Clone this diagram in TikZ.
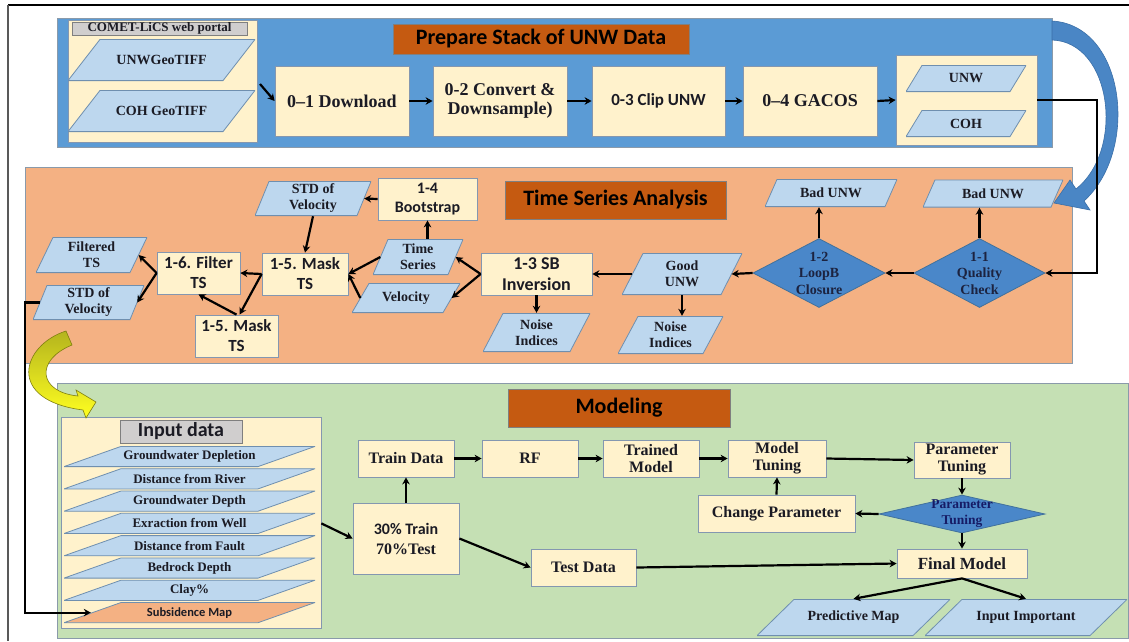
\documentclass[tikz,border=0pt]{standalone}
\usepackage{fontspec}
\setmainfont{Liberation Serif}
\newfontfamily\carl{Carlito}
\usetikzlibrary{shapes.geometric,arrows.meta,calc}
\newcommand\fsz[2]{\fontsize{#1}{#2}\selectfont}
\definecolor{bblue}{HTML}{5B9BD5}
\definecolor{borange}{HTML}{F4B183}
\definecolor{bgreen}{HTML}{C5E0B4}
\definecolor{cream}{HTML}{FFF2CC}
\definecolor{lblue}{HTML}{BDD7EE}
\definecolor{pline}{HTML}{6F8FAF}
\definecolor{boxline}{HTML}{8497B0}
\definecolor{bandline}{HTML}{8A9AAA}
\definecolor{gline}{HTML}{7F7F7F}
\definecolor{glabelfill}{HTML}{D0CECE}
\definecolor{tred}{HTML}{C55A11}
\definecolor{dblue}{HTML}{4A87C9}
\definecolor{dline}{HTML}{41719C}
\definecolor{dtext}{HTML}{1C2340}
\definecolor{txt}{HTML}{1B1B24}
\definecolor{barr}{HTML}{4A86C5}
\definecolor{barrline}{HTML}{3A6FA8}
\definecolor{yolive}{HTML}{B4B41E}
\definecolor{yyellow}{HTML}{FFFF20}
\definecolor{yline}{HTML}{7F7F10}
\tikzset{
  pfill/.store in=\pfillcol, pfill=lblue,
  arr/.style={draw=black, line width=2.2pt, -{Stealth[length=7pt,width=7.5pt]}},
  band/.style={rectangle, draw=bandline, line width=1pt, inner sep=0},
  panel/.style={rectangle, draw=boxline, fill=cream, line width=0.8pt, inner sep=0},
  glabel/.style={rectangle, draw=gline, fill=glabelfill, line width=0.8pt, inner sep=0, text=txt},
  title/.style={rectangle, draw=gline, fill=tred, line width=0.8pt, inner sep=0, text=black, font=\carl\bfseries\fsz{22}{24}},
  cbox/.style 2 args={rectangle, draw=boxline, fill=cream, line width=0.8pt, inner sep=0, align=center, text=txt, minimum width=#1, minimum height=#2, font=\rmfamily\bfseries\fsz{16}{17}},
  para/.style n args={3}{rectangle, pfill=lblue, inner sep=0, align=center, text=txt, minimum width=#1, minimum height=#2, font=\rmfamily\bfseries\fsz{14}{16},
    path picture={\filldraw[fill=\pfillcol, draw=pline, line width=0.8pt]
      ([xshift=#3pt,yshift=-0.4pt]path picture bounding box.north west) -- ([yshift=-0.4pt]path picture bounding box.north east)
      -- ([xshift=-#3pt,yshift=0.4pt]path picture bounding box.south east) -- ([yshift=0.4pt]path picture bounding box.south west) -- cycle;}},
  dia/.style 2 args={diamond, draw=dline, fill=dblue, line width=0.8pt, inner sep=0, minimum width=#1, minimum height=#2},
  dlbl/.style={align=center, inner sep=0, text=dtext, font=\rmfamily\bfseries\fsz{14}{16.5}},
}
\begin{document}
\begin{tikzpicture}[x=1pt,y=-1pt]
\useasboundingbox (0,0) rectangle (1129,641);
\fill[white] (0,0) rectangle (1129,641);
\draw[black, line width=1.2pt] (8,5) -- (1129,5);
\draw[gray!70!black, line width=1.2pt] (8,5) -- (8,641);

% ---------------- Prepare stack ----------------
\node[band, fill=bblue, minimum width=995, minimum height=129] (b1) at (554.5,82.5) {};
\node[panel, minimum width=189, minimum height=122] (src) at (162.5,81) {};
\node[glabel, minimum width=175, minimum height=13, font=\rmfamily\bfseries\fsz{13}{13}] (portal) at (159.5,28.5) {COMET-LiCS web portal};
\node[para={187}{42}{32}] (geo1) at (161.5,60) {UNWGeoTIFF};
\node[para={187}{42}{32}] (geo2) at (161.5,111) {COH GeoTIFF};
\node[title, minimum width=296, minimum height=30] (t1) at (541,39) {Prepare Stack of UNW Data};
\node[cbox={134}{70}, font=\rmfamily\bfseries\fsz{18}{19}] (dl) at (342,101) {0–1 Download};
\node[cbox={134}{70}, font=\rmfamily\bfseries\fsz{18}{19}] (cv) at (500,101) {0-2 Convert \&\\Downsample)};
\node[cbox={133}{70}, font=\carl\bfseries\fsz{17}{19}] (clip) at (658.5,101) {0-3 Clip UNW};
\node[cbox={134}{70}, font=\rmfamily\bfseries\fsz{18}{19}] (gac) at (810,101) {0–4 GACOS};
\node[panel, minimum width=141, minimum height=90] (out) at (966.5,100) {};
\node[para={120}{27}{16}] (ounw) at (966,78.5) {UNW};
\node[para={120}{27}{16}] (ocoh) at (966,123.5) {COH};

\coordinate (srcout) at (260,84);
\draw[arr] (srcout) -- (dl.west);
\draw[arr] (dl.east) -- (cv.west);
\draw[arr] (cv.east) -- (clip.west);
\draw[arr] (clip.east) -- (gac.west);
\draw[arr] (gac.east) -- (out.west);

% ---------------- Time series ----------------
\node[band, fill=borange, minimum width=1047, minimum height=196] (b2) at (548.5,265) {};
\node[title, minimum width=221, minimum height=38] (t2) at (615.5,200) {Time Series Analysis};
\node[para={132}{28}{12}] (bad1) at (831,193) {Bad UNW};
\node[para={140}{28}{12}] (bad2) at (993,193.5) {Bad UNW};
\node[dia={132}{69}] (d12) at (819,273) {};
\node[dlbl] (d12t) at (d12) {1-2\\LoopB\\Closure};
\node[dia={131}{69}] (d11) at (979.5,273) {};
\node[dlbl] (d11t) at (d11) {1-1\\Quality\\Check};
\node[para={120}{42}{21}] (good) at (682,274) {Good\\UNW};
\node[para={105}{38}{20}] (noi2) at (670.5,335) {Noise\\Indices};
\node[cbox={111}{42}, font=\carl\bfseries\fsz{18}{21}] (sb) at (536.5,274) {1-3 SB\\Inversion};
\node[para={107}{39}{20}] (noi1) at (536.5,332.5) {Noise\\Indices};
\node[para={90}{36}{15}] (ts) at (418,257) {Time\\Series};
\node[para={108}{30}{17}] (vel) at (406,298) {Velocity};
\node[cbox={99}{42}, font=\carl\bfseries\fsz{16}{19}] (boot) at (427.5,199) {1-4\\Bootstrap};
\node[para={116}{35}{14}] (std1) at (313,198.5) {STD of\\Velocity};
\node[cbox={86}{42}, font=\carl\bfseries\fsz{17}{20}] (mask1) at (305,274) {1-5. Mask\\TS};
\node[cbox={83}{42}, font=\carl\bfseries\fsz{17}{20}] (filt) at (198.5,273) {1-6. Filter\\TS};
\node[cbox={83}{42}, font=\carl\bfseries\fsz{17}{20}] (mask2) at (236.5,336) {1-5. Mask\\TS};
\node[para={111}{36}{17}] (ftd) at (91.5,255) {Filtered\\TS};
\node[para={111}{35}{14}] (std2) at (88.5,302.5) {STD of\\Velocity};

% ---------------- Modeling ----------------
\node[band, fill=bgreen, minimum width=1071, minimum height=255] (b3) at (592.5,510.5) {};
\node[title, minimum width=222, minimum height=38] (t3) at (619,408) {Modeling};
\node[panel, minimum width=260, minimum height=211] (inp) at (191,522.5) {};
\node[glabel, minimum width=122, minimum height=23, font=\carl\bfseries\fsz{20}{22}] (inl) at (181,431.5) {Input data};
\foreach \i/\lbl in {1/Groundwater Depletion,2/Distance from River,3/Groundwater Depth,4/Exraction from Well,5/Distance from Fault,6/Bedrock Depth,7/Clay\%}{
  \node[para={251}{21}{57}, font=\rmfamily\bfseries\fsz{13}{14}] (lay\i) at (189.5,{456.5+22.3*(\i-1)}) {\lbl};
}
\node[para={251}{21}{57}, pfill=borange, font=\carl\bfseries\fsz{12.5}{14}] (lay8) at (189.5,612.6) {Subsidence Map};

\node[cbox={96}{37}] (train) at (406,458.5) {Train Data};
\node[cbox={96}{37}] (rf) at (530,458.5) {RF};
\node[cbox={96}{37}] (trm) at (651,458.5) {Trained\\Model};
\node[cbox={98}{37}] (mt) at (777,458.5) {Model\\Tuning};
\node[cbox={96}{36}] (pt) at (962,460) {Parameter\\Tuning};
\node[dia={166}{38}] (dpt) at (962,514) {};
\node[dlbl, font=\rmfamily\bfseries\fsz{13.5}{16}, text=dtext!80!blue] (dptt) at (dpt) {Parameter\\Tuning};
\node[cbox={157}{37}] (chg) at (776.5,513.5) {Change Parameter};
\node[cbox={130}{29}, font=\rmfamily\bfseries\fsz{17}{18}] (fin) at (962,563.5) {Final Model};
\node[cbox={106}{71}, font=\rmfamily\bfseries\fsz{16}{20}] (spl) at (406,538.5) {{\carl 30\% Train}\\70\%Test};
\node[cbox={105}{37}] (test) at (583.5,567.5) {Test Data};
\node[para={193}{37}{37}] (pred) at (853.5,617.5) {Predictive Map};
\node[para={202}{37}{37}] (ii) at (1026,617.5) {Input Important};

% ---------------- big curved arrows ----------------
\filldraw[fill=barr, draw=barrline, line width=0.6pt]
  (1052,21) .. controls (1125,25) and (1140,150) .. (1084,201)
  -- (1090,210) -- (1054,203) -- (1070,180) -- (1076,189)
  .. controls (1125,150) and (1112,42) .. (1052,40) -- cycle;
\shade[top color=yolive, bottom color=yyellow, draw=yline, line width=0.6pt]
  (66,331) .. controls (22,345) and (5,400) .. (83,410)
  -- (86,418) -- (96,402) -- (76,390) -- (78,396)
  .. controls (38,392) and (35,360) .. (72,345) -- cycle;

% ---------------- connectors ----------------
\coordinate (bend1) at (1097,100);
\draw[arr] (out.east) -- (bend1) |- (d11.east);
\draw[arr] (d11.west) -- (d12.east);
\draw[arr] (d12.north) -- (d12.north |- bad1.south);
\draw[arr] (d11.north) -- (d11.north |- bad2.south);
\draw[arr] (d12.west) -- ([xshift=-10.5pt]good.east);
\draw[arr] ([xshift=10.5pt]good.west) -- (sb.east);
\draw[arr] (good.center |- good.south) -- (good.center |- noi2.north);
\draw[arr] (sb.south) -- (sb.south |- noi1.north);
\draw[arr] (sb.west) -- ([xshift=-7.5pt]ts.east);
\draw[arr] (sb.west) -- ([xshift=-8.5pt]vel.east);
\draw[arr] (boot.south |- ts.north) -- (boot.south);
\draw[arr] (boot.west) -- ([xshift=-7pt]std1.east);
\draw[arr] (std1.south) -- (mask1.north);
\draw[arr] ([xshift=7.5pt]ts.west) -- (mask1.east);
\draw[arr] ([xshift=8.5pt]vel.west) -- (mask1.east);
\draw[arr] (mask1.west) -- (filt.east);
\draw[arr] (mask1.west) -- ([xshift=3pt]mask2.north);
\draw[arr] (mask2.north) -- (filt.south);
\draw[arr] (filt.west) -- ([xshift=-8.5pt]ftd.east);
\draw[arr] (filt.west) -- ([xshift=-7pt]std2.east);
\coordinate (bend2) at (25,302.5);
\draw[arr] ([xshift=7pt]std2.west) -- (bend2) |- ([xshift=27pt]lay8.west);

\draw[arr] (inp.east |- lay4.east) -- (spl.west);
\draw[arr] (spl.north) -- (train.south);
\draw[arr] (train.east) -- (rf.west);
\draw[arr] (rf.east) -- (trm.west);
\draw[arr] (trm.east) -- (mt.west);
\draw[arr] (mt.east) -- (pt.west);
\draw[arr] (pt.south) -- (dpt.north);
\draw[arr] (dpt.west) -- (chg.east);
\draw[arr] (chg.north) -- (mt.south);
\draw[arr] (dpt.south) -- (fin.north);
\draw[arr] (spl.east) -- (test.west);
\draw[arr] (test.east) -- (fin.west);
\draw[arr] (fin.south) -- (pred.center |- pred.north);
\draw[arr] (fin.south) -- (ii.center |- ii.north);
\end{tikzpicture}
\end{document}
